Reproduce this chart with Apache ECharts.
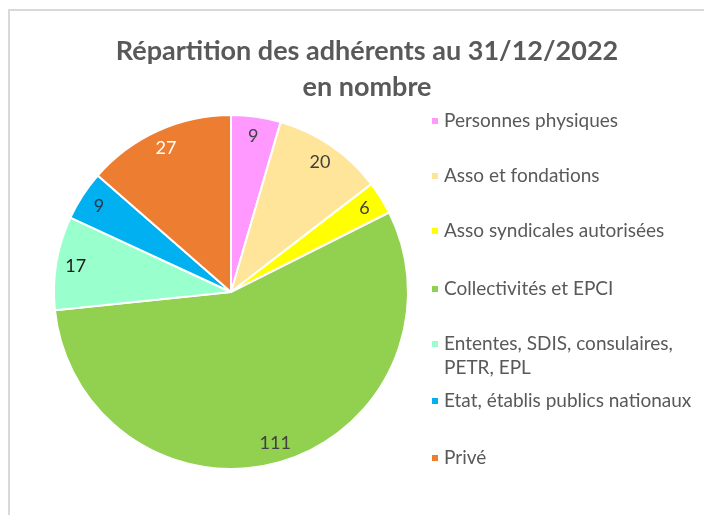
<!DOCTYPE html>
<html>
<head>
<meta charset="utf-8">
<script src="https://cdn.jsdelivr.net/npm/echarts@6/dist/echarts.min.js"></script>
<style>
  html, body { margin: 0; padding: 0; background: #fff; }
  #main { width: 704px; height: 515px; }
</style>
</head>
<body>
<div id="main"></div>
<script>
// catégories et valeurs
const categories = [
  'Personnes physiques',
  'Asso et fondations',
  'Asso syndicales autorisées',
  'Collectivités et EPCI',
  'Ententes, SDIS, consulaires, PETR, EPL',
  'Etat, établis publics nationaux',
  'Privé'
]
const values = [9, 20, 6, 111, 17, 9, 27]
const colors = ['#FF99FF', '#FFE599', '#FFFF00', '#92D050', '#99FFCC', '#00B0F0', '#ED7D31']
const labelColors = ['#404040', '#404040', '#404040', '#404040', '#1a1a1a', '#1f3a4a', '#ffffff']

// position verticale de chaque entrée de légende (mise en page)
const legendTops = [104, 159, 214, 272, 303, 384, 441]

const myChart = echarts.init(document.querySelector('#main'))

const pieData = categories.map(function (name, i) {
  return { name: name, value: values[i] }
})

const legends = categories.map(function (name, i) {
  return {
    orient: 'vertical',
    left: 425,
    top: legendTops[i],
    data: [name],
    icon: 'rect',
    itemWidth: 8,
    itemHeight: 8,
    itemGap: 0,
    selectedMode: false,
    formatter: function (n) {
      // ligne vide en tête pour que le carré reste aligné sur la 1re ligne du texte
      return n === 'Ententes, SDIS, consulaires, PETR, EPL' ? '\u00a0\nEntentes, SDIS, consulaires,\nPETR, EPL' : n
    },
    textStyle: {
      fontFamily: 'Lato',
      fontSize: 19,
      color: '#595959',
      lineHeight: 24
    }
  }
})

myChart.setOption({
  animation: false,
  color: colors,
  title: {
    text: 'Répartition des adhérents au 31/12/2022\nen nombre',
    left: 362,
    textAlign: 'center',
    top: 28,
    textStyle: {
      fontFamily: 'Lato',
      fontSize: 27,
      fontWeight: 'bold',
      color: '#595959',
      lineHeight: 36
    }
  },
  legend: legends,
  graphic: [{
    type: 'rect',
    shape: { x: 9, y: 10, width: 800, height: 600 },
    style: { fill: 'none', stroke: '#d9d9d9', lineWidth: 2 },
    silent: true
  }],
  series: [
    {
      name: 'Adhérents',
      type: 'pie',
      center: [231, 292],
      radius: 177,
      startAngle: 90,
      clockwise: true,
      label: { show: false },
      labelLine: { show: false },
      itemStyle: { borderColor: '#ffffff', borderWidth: 2 },
      emphasis: { disabled: true },
      data: pieData
    },
    {
      // série transparente utilisée seulement pour placer les étiquettes près du bord
      name: 'Etiquettes',
      type: 'pie',
      center: [231, 292],
      radius: [132, 177],
      startAngle: 90,
      clockwise: true,
      silent: true,
      itemStyle: { color: 'rgba(0,0,0,0)' },
      emphasis: { disabled: true },
      label: {
        show: true,
        position: 'inside',
        formatter: '{c}',
        fontFamily: 'Lato',
        fontSize: 18,
        color: '#404040'
      },
      labelLine: { show: false },
      data: pieData.map(function (d, i) {
        return { name: d.name, value: d.value, label: { color: labelColors[i] } }
      })
    }
  ]
})
</script>
</body>
</html>
